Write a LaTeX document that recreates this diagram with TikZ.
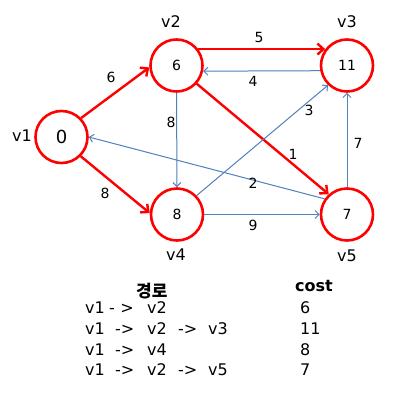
\documentclass[tikz,border=0pt]{standalone}
\usepackage{fontspec}
\setmainfont{DejaVu Sans}
\newfontfamily\krfont{Noto Sans CJK KR}
\usetikzlibrary{arrows.meta}
\definecolor{edgeblue}{RGB}{79,129,189}
\begin{document}
\begin{tikzpicture}[x=1pt,y=-1pt,
  vert/.style={circle,draw=red,line width=2.6pt,minimum size=52pt,inner sep=0pt,fill=white,font=\fontsize{14}{16}\selectfont},
  redge/.style={draw=red,line width=2.4pt,-{Straight Barb[length=6pt,width=11pt]}},
  bedge/.style={draw=edgeblue,line width=1pt,-{Straight Barb[length=4pt,width=8pt]}},
  vname/.style={font=\fontsize{16}{18}\selectfont,inner sep=0pt},
  wlab/.style={font=\fontsize{14}{16}\selectfont,inner sep=0pt},
  tab/.style={font=\fontsize{16}{18}\selectfont,inner sep=0pt,anchor=base west}]
\useasboundingbox (0,0) rectangle (420,402);
\fill[white] (0,0) rectangle (420,402);

\node[vert,font=\fontsize{18}{20}\selectfont] (v1) at (61.5,137) {0};
\node[vert] (v2) at (176.5,65.5) {6};
\node[vert] (v3) at (347,65.5) {11};
\node[vert] (v4) at (177,214.5) {8};
\node[vert] (v5) at (347,214.5) {7};

\node[vname] (n1) at (22,136) {v1};
\node[vname] (n2) at (171,22) {v2};
\node[vname] (n3) at (347,22) {v3};
\node[vname] (n4) at (176,255) {v4};
\node[vname] (n5) at (347,256) {v5};

\draw[redge] (v1.44) -- (v2.184);
\draw[redge] (v1.-45) -- (v4.177);
\draw[redge] (v2.37) -- (v3.143);
\draw[bedge] (v3.191.5) -- (v2.348.5);
\draw[bedge] (v2) -- (v4);
\draw[redge] (v2.-42) -- (v5.132);
\draw[bedge] (v4.44) -- (v3.226);
\draw[bedge] (v5.145) -- (v1.0);
\draw[bedge] (v4) -- (v5);
\draw[bedge] (v5) -- (v3);

\node[wlab] (l12) at (111,77) {6};
\node[wlab] (l14) at (105,193) {8};
\node[wlab] (l23) at (259,37) {5};
\node[wlab] (l32) at (253,81) {4};
\node[wlab] (l24) at (171,122) {8};
\node[wlab] (l25) at (293,154) {1};
\node[wlab] (l43) at (309,110) {3};
\node[wlab] (l51) at (253,183) {2};
\node[wlab] (l45) at (253,225) {9};
\node[wlab] (l53) at (358,143) {7};

\node[tab,font=\krfont\bfseries\fontsize{17}{19}\selectfont] (h1) at (136,297) {경로};
\node[tab,font=\bfseries\fontsize{16}{18}\selectfont] (h2) at (295,291) {cost};

\node[tab] (r1a) at (85,313.5) {v1};
\node[tab] (r1b) at (109,313.5) {-\,\,>};
\node[tab] (r1c) at (147,313.5) {v2};
\node[tab] (r1d) at (300,313.5) {6};

\node[tab] (r2a) at (85,334) {v1};
\node[tab] (r2b) at (115,334) {->};
\node[tab] (r2c) at (147,334) {v2};
\node[tab] (r2d) at (178,334) {->};
\node[tab] (r2e) at (208,334) {v3};
\node[tab] (r2f) at (300,334) {11};

\node[tab] (r3a) at (85,355) {v1};
\node[tab] (r3b) at (115,355) {->};
\node[tab] (r3c) at (147,355) {v4};
\node[tab] (r3d) at (300,355) {8};

\node[tab] (r4a) at (85,375.5) {v1};
\node[tab] (r4b) at (115,375.5) {->};
\node[tab] (r4c) at (147,375.5) {v2};
\node[tab] (r4d) at (178,375.5) {->};
\node[tab] (r4e) at (208,375.5) {v5};
\node[tab] (r4f) at (300,375.5) {7};
\end{tikzpicture}
\end{document}
